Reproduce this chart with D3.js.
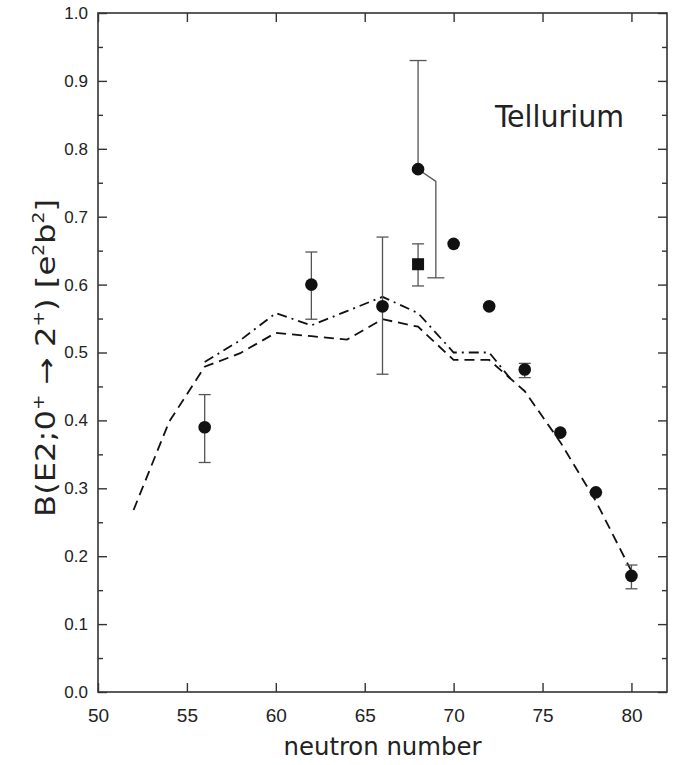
<!DOCTYPE html>
<html><head><meta charset="utf-8">
<script src="https://cdn.jsdelivr.net/npm/d3@7"></script>
<style>body{margin:0;background:#fff}svg{display:block}</style>
</head><body><svg id="c" width="685" height="765"></svg>
<script>
// Data: experimental points (circles)
const circleN   = [56, 62, 66, 68, 70, 72, 74, 76, 78, 80];
const circleB   = [0.39, 0.60, 0.568, 0.77, 0.66, 0.568, 0.475, 0.382, 0.294, 0.171];
const circleLo  = [0.338, 0.549, 0.468, null, null, null, 0.463, null, null, 0.152];
const circleHi  = [0.438, 0.648, 0.670, 0.93, null, null, 0.484, null, null, 0.187];
// offset lower error of N=68 point
const offsetErrN = [68, 69, 69];
const offsetErrB = [0.77, 0.752, 0.61];
// square point
const squareN = [68];
const squareB = [0.630];
const squareLo = [0.598];
const squareHi = [0.660];
// calculations
const dashN = [52, 54, 56, 58, 60, 62, 64, 66, 68, 70, 72, 74, 76, 78, 80];
const dashB = [0.268, 0.398, 0.479, 0.499, 0.529, 0.524, 0.519, 0.549, 0.538, 0.489, 0.489, 0.443, 0.368, 0.281, 0.178];
const dashDotN = [56, 58, 60, 62, 64, 66, 68, 70, 72, 73.3];
const dashDotB = [0.486, 0.518, 0.558, 0.540, 0.561, 0.582, 0.558, 0.500, 0.500, 0.458];
const xTicks = [50, 55, 60, 65, 70, 75, 80];
const yTicks = [0.0, 0.1, 0.2, 0.3, 0.4, 0.5, 0.6, 0.7, 0.8, 0.9, 1.0];
const yMinor = [0.05, 0.15, 0.25, 0.35, 0.45, 0.55, 0.65, 0.75, 0.85, 0.95];

const svg = d3.select("#c");
const L = 98, R = 667, T = 13, B = 692;
const x = d3.scaleLinear().domain([50, 82]).range([L, R]);
const y = d3.scaleLinear().domain([0, 1]).range([B, T]);
const axisColor = "#333";

// frame
svg.append("rect").attr("x", L).attr("y", T).attr("width", R - L).attr("height", B - T)
  .attr("fill", "none").attr("stroke", axisColor).attr("stroke-width", 1.6);

// axes with inward ticks
const gxB = svg.append("g").attr("transform", `translate(0,${B})`)
  .call(d3.axisBottom(x).tickValues(xTicks).tickSizeInner(-9).tickSizeOuter(0).tickPadding(17).tickFormat(d3.format("d")));
const gxT = svg.append("g").attr("transform", `translate(0,${T})`)
  .call(d3.axisTop(x).tickValues(xTicks).tickSizeInner(-9).tickSizeOuter(0).tickFormat(""));
const gyL = svg.append("g").attr("transform", `translate(${L},0)`)
  .call(d3.axisLeft(y).tickValues(yTicks).tickSizeInner(-9).tickSizeOuter(0).tickPadding(10).tickFormat(d3.format(".1f")));
const gyR = svg.append("g").attr("transform", `translate(${R},0)`)
  .call(d3.axisRight(y).tickValues(yTicks).tickSizeInner(-9).tickSizeOuter(0).tickFormat(""));
const gyLm = svg.append("g").attr("transform", `translate(${L},0)`)
  .call(d3.axisLeft(y).tickValues(yMinor).tickSizeInner(-5).tickSizeOuter(0).tickFormat(""));
const gyRm = svg.append("g").attr("transform", `translate(${R},0)`)
  .call(d3.axisRight(y).tickValues(yMinor).tickSizeInner(-5).tickSizeOuter(0).tickFormat(""));
[gxB, gxT, gyL, gyR, gyLm, gyRm].forEach(g => {
  g.select(".domain").remove();
  g.selectAll("line").attr("stroke", axisColor).attr("stroke-width", 1.4);
});
gxB.selectAll("text").attr("font-family", "'Liberation Sans',Arial,sans-serif")
  .attr("font-size", 19).attr("fill", "#222");
gyL.selectAll("text").attr("font-family", "'Liberation Sans',Arial,sans-serif")
  .attr("font-size", 17).attr("fill", "#222");

// calculation lines
const line = d3.line().x(d => x(d[0])).y(d => y(d[1]));
svg.append("path").datum(dashN.map((n, i) => [n, dashB[i]]))
  .attr("d", line).attr("fill", "none").attr("stroke", "#111").attr("stroke-width", 1.8)
  .attr("stroke-dasharray", "10,6");
svg.append("path").datum(dashDotN.map((n, i) => [n, dashDotB[i]]))
  .attr("d", line).attr("fill", "none").attr("stroke", "#111").attr("stroke-width", 1.8)
  .attr("stroke-dasharray", "10,5,2,5");

// error bars
const errColor = "#555";
function errBar(n, lo, hi, capW, capLo = true, capHi = true) {
  const g = svg.append("g").attr("stroke", errColor).attr("stroke-width", 1.3);
  g.append("line").attr("x1", x(n)).attr("x2", x(n)).attr("y1", y(lo)).attr("y2", y(hi));
  if (capHi) g.append("line").attr("x1", x(n) - capW / 2).attr("x2", x(n) + capW / 2).attr("y1", y(hi)).attr("y2", y(hi));
  if (capLo) g.append("line").attr("x1", x(n) - capW / 2).attr("x2", x(n) + capW / 2).attr("y1", y(lo)).attr("y2", y(lo));
}
circleN.forEach((n, i) => {
  if (circleHi[i] !== null && circleLo[i] !== null) errBar(n, circleLo[i], circleHi[i], 12);
  else if (circleHi[i] !== null) errBar(n, circleB[i], circleHi[i], 17, false, true);
});
// offset lower error for N=68
svg.append("path").datum(offsetErrN.map((n, i) => [n, offsetErrB[i]]))
  .attr("d", line).attr("fill", "none").attr("stroke", errColor).attr("stroke-width", 1.3);
svg.append("line").attr("x1", x(69) - 8.5).attr("x2", x(69) + 8.5)
  .attr("y1", y(offsetErrB[2])).attr("y2", y(offsetErrB[2])).attr("stroke", errColor).attr("stroke-width", 1.3);
squareN.forEach((n, i) => errBar(n, squareLo[i], squareHi[i], 12));

// points
svg.append("g").selectAll("circle").data(circleN).join("circle")
  .attr("cx", d => x(d)).attr("cy", (d, i) => y(circleB[i])).attr("r", 6.3).attr("fill", "#111");
svg.append("g").selectAll("rect").data(squareN).join("rect")
  .attr("x", d => x(d) - 6).attr("y", (d, i) => y(squareB[i]) - 6).attr("width", 12).attr("height", 12).attr("fill", "#111");

// title
svg.append("text").attr("x", 495).attr("y", 127).text("Tellurium")
  .attr("font-family", "'DejaVu Sans Condensed','DejaVu Sans',sans-serif").attr("font-weight", 300)
  .attr("font-size", 31).attr("fill", "#222")
  .attr("textLength", 129).attr("lengthAdjust", "spacingAndGlyphs");

// x label
svg.append("text").attr("x", (L + R) / 2).attr("y", 755).attr("text-anchor", "middle")
  .text("neutron number").attr("font-family", "'DejaVu Sans Condensed','DejaVu Sans',sans-serif")
  .attr("font-weight", 300).attr("font-size", 24).attr("fill", "#222")
  .attr("textLength", 198).attr("lengthAdjust", "spacingAndGlyphs");

// y label
const yl = svg.append("text").attr("transform", "translate(55,358) rotate(-90)").attr("text-anchor", "middle")
  .attr("font-family", "'DejaVu Sans Condensed','DejaVu Sans',sans-serif").attr("font-weight", 300)
  .attr("font-size", 26).attr("fill", "#222")
  .attr("textLength", 318).attr("lengthAdjust", "spacingAndGlyphs");
yl.append("tspan").text("B(E2;0");
yl.append("tspan").text("+").attr("font-size", 15).attr("dy", -11);
yl.append("tspan").text(" \u2192 2").attr("dy", 11);
yl.append("tspan").text("+").attr("font-size", 15).attr("dy", -11);
yl.append("tspan").text(") [e").attr("dy", 11);
yl.append("tspan").text("2").attr("font-size", 15).attr("dy", -11);
yl.append("tspan").text("b").attr("dy", 11);
yl.append("tspan").text("2").attr("font-size", 15).attr("dy", -11);
yl.append("tspan").text("]").attr("dy", 11);
</script></body></html>
